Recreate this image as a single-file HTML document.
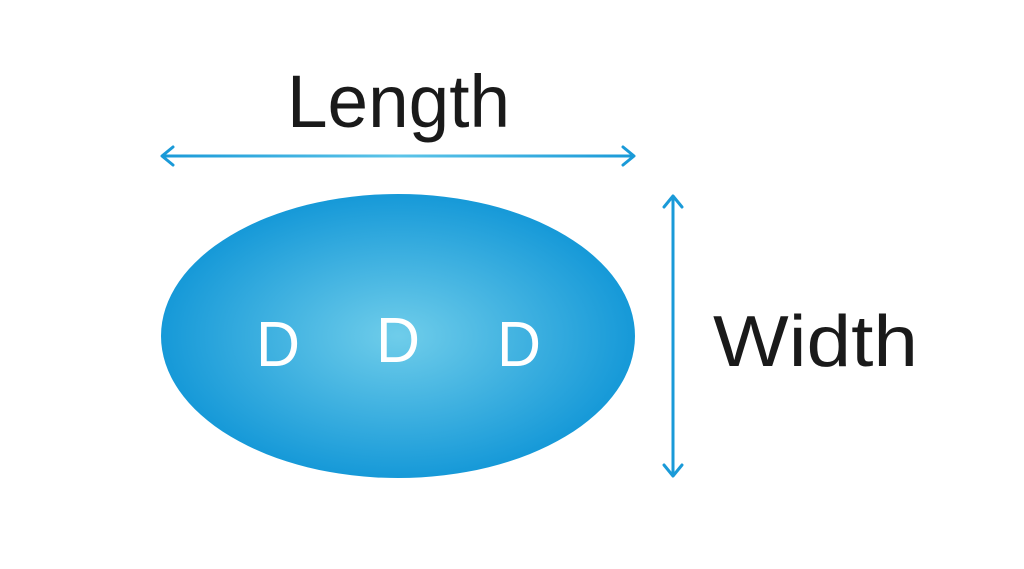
<!DOCTYPE html>
<html><head><meta charset="utf-8"><style>html,body{margin:0;padding:0;background:#fff;}svg{display:block}</style></head>
<body>
<svg width="1024" height="569" viewBox="0 0 1024 569" xmlns="http://www.w3.org/2000/svg">
<defs>
<radialGradient id="g" cx="50%" cy="50%" r="50%">
<stop offset="0" stop-color="#6fcdea"/>
<stop offset="1" stop-color="#1699d8"/>
</radialGradient>
<linearGradient id="h" x1="0" x2="1" y1="0" y2="0">
<stop offset="0" stop-color="#1a9ad8"/>
<stop offset="0.5" stop-color="#5cc4e8"/>
<stop offset="1" stop-color="#1a9ad8"/>
</linearGradient>
</defs>
<ellipse cx="398" cy="336" rx="237" ry="142" fill="url(#g)"/>
<g font-family="Liberation Sans, sans-serif" fill="#fff" font-size="64" text-anchor="middle">
<text x="278" y="366" textLength="44" lengthAdjust="spacingAndGlyphs">D</text>
<text x="398" y="362" textLength="44" lengthAdjust="spacingAndGlyphs">D</text>
<text x="519" y="366" textLength="44" lengthAdjust="spacingAndGlyphs">D</text>
</g>
<rect x="162" y="154.5" width="472" height="3" fill="url(#h)"/>
<polyline points="173,147 162,156 173,165" fill="none" stroke="#1a9ad8" stroke-width="3" stroke-linecap="round" stroke-linejoin="round"/>
<polyline points="623,147 634,156 623,165" fill="none" stroke="#1a9ad8" stroke-width="3" stroke-linecap="round" stroke-linejoin="round"/>
<line x1="673" y1="196" x2="673" y2="476" stroke="#1a9ad8" stroke-width="3"/>
<polyline points="664,207 673,196 682,207" fill="none" stroke="#1a9ad8" stroke-width="3" stroke-linecap="round" stroke-linejoin="round"/>
<polyline points="664,465 673,476 682,465" fill="none" stroke="#1a9ad8" stroke-width="3" stroke-linecap="round" stroke-linejoin="round"/>
<g font-family="Liberation Sans, sans-serif" fill="#1a1a1a">
<text x="287" y="127" font-size="74" textLength="223" lengthAdjust="spacingAndGlyphs">Length</text>
<text x="713" y="366" font-size="72" textLength="205" lengthAdjust="spacingAndGlyphs">Width</text>
</g>
</svg>
</body></html>
